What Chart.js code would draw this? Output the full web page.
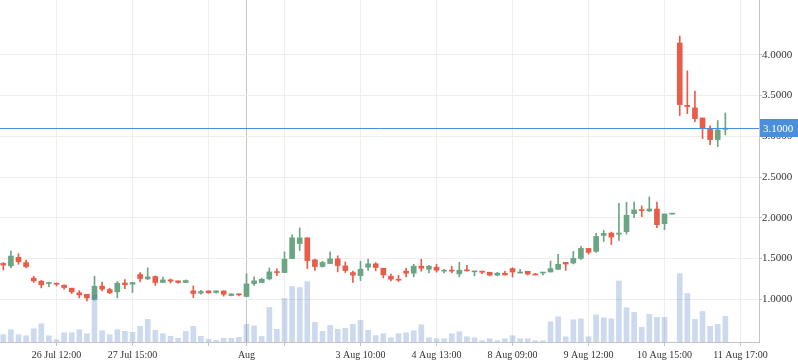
<!DOCTYPE html>
<html>
<head>
<meta charset="utf-8">
<script src="https://cdn.jsdelivr.net/npm/chart.js@4.4.1/dist/chart.umd.min.js"></script>
<style>
  html, body { margin: 0; padding: 0; background: #fff; }
  #wrap { width: 798px; height: 363px; position: relative; }
</style>
</head>
<body>
<div id="wrap"><canvas id="priceChart"></canvas></div>
<script>
// candle data, one entry per bar (bar index is the x value)
const opens = [1.44, 1.41, 1.515, 1.45, 1.26, 1.222, 1.193, 1.197, 1.173, 1.136,
  1.079, 1.062, 1.0, 1.161, 1.12, 1.091, 1.2, 1.185, 1.304, 1.25,
  1.279, 1.206, 1.238, 1.226, 1.206, 1.103, 1.075, 1.103, 1.083, 1.103,
  1.046, 1.066, 1.034, 1.193, 1.206, 1.25, 1.34, 1.328, 1.5, 1.684,
  1.754, 1.484, 1.402, 1.439, 1.496, 1.41, 1.328, 1.291, 1.394, 1.435,
  1.381, 1.283, 1.246, 1.345, 1.32, 1.406, 1.369, 1.394, 1.345, 1.357,
  1.312, 1.357, 1.337, 1.345, 1.332, 1.296, 1.318, 1.376, 1.322, 1.343,
  1.31, 1.322, 1.335, 1.367, 1.453, 1.445, 1.502, 1.624, 1.588, 1.784,
  1.812, 1.8, 1.83, 2.051, 2.096, 2.084, 2.108, 1.928, 2.045, 4.145,
  3.38, 3.348, 3.225, 3.094, 2.959, 3.085];
const highs = [1.45, 1.59, 1.56, 1.48, 1.283, 1.234, 1.21, 1.2, 1.177, 1.136,
  1.107, 1.062, 1.283, 1.21, 1.136, 1.218, 1.242, 1.206, 1.328, 1.385,
  1.287, 1.271, 1.25, 1.226, 1.238, 1.165, 1.111, 1.103, 1.103, 1.103,
  1.066, 1.066, 1.312, 1.275, 1.259, 1.385, 1.373, 1.582, 1.79, 1.876,
  1.754, 1.492, 1.467, 1.582, 1.533, 1.459, 1.345, 1.467, 1.492, 1.45,
  1.381, 1.308, 1.296, 1.381, 1.43, 1.492, 1.418, 1.43, 1.369, 1.406,
  1.455, 1.418, 1.345, 1.345, 1.332, 1.332, 1.343, 1.388, 1.367, 1.343,
  1.318, 1.331, 1.469, 1.551, 1.453, 1.588, 1.649, 1.624, 1.808, 1.845,
  1.824, 2.176, 2.19, 2.194, 2.145, 2.256, 2.194, 2.047, 2.047, 4.231,
  3.802, 3.556, 3.225, 3.127, 3.192, 3.286];
const lows = [1.36, 1.385, 1.43, 1.385, 1.206, 1.14, 1.156, 1.165, 1.124, 1.07,
  1.017, 0.98, 0.99, 1.103, 1.07, 1.017, 1.13, 1.083, 1.214, 1.242,
  1.169, 1.206, 1.2, 1.197, 1.206, 1.021, 1.062, 1.075, 1.075, 1.038,
  1.042, 1.042, 1.034, 1.169, 1.201, 1.238, 1.291, 1.328, 1.5, 1.598,
  1.377, 1.353, 1.394, 1.439, 1.336, 1.328, 1.206, 1.23, 1.353, 1.35,
  1.263, 1.226, 1.218, 1.275, 1.275, 1.345, 1.324, 1.332, 1.324, 1.324,
  1.275, 1.345, 1.287, 1.312, 1.287, 1.287, 1.298, 1.273, 1.322, 1.298,
  1.298, 1.298, 1.335, 1.367, 1.355, 1.433, 1.49, 1.555, 1.576, 1.71,
  1.673, 1.722, 1.8, 2.002, 2.014, 2.076, 1.879, 1.855, 2.045, 3.254,
  3.278, 3.18, 2.971, 2.898, 2.873, 3.016];
const closes = [1.42, 1.53, 1.46, 1.4, 1.226, 1.177, 1.201, 1.185, 1.144, 1.091,
  1.054, 1.017, 1.161, 1.124, 1.079, 1.197, 1.18, 1.206, 1.255, 1.275,
  1.206, 1.238, 1.222, 1.206, 1.23, 1.071, 1.095, 1.079, 1.103, 1.062,
  1.066, 1.054, 1.189, 1.226, 1.246, 1.336, 1.328, 1.492, 1.754, 1.754,
  1.475, 1.402, 1.451, 1.496, 1.414, 1.353, 1.296, 1.369, 1.435, 1.39,
  1.3, 1.246, 1.234, 1.32, 1.406, 1.381, 1.406, 1.357, 1.357, 1.345,
  1.357, 1.349, 1.345, 1.332, 1.296, 1.32, 1.298, 1.335, 1.335, 1.31,
  1.298, 1.331, 1.376, 1.429, 1.433, 1.502, 1.624, 1.576, 1.771, 1.808,
  1.763, 1.812, 2.03, 2.096, 2.088, 2.108, 1.916, 2.047, 2.047, 3.389,
  3.364, 3.217, 3.102, 2.959, 3.078, 3.1];
const volumes = [73, 123, 73, 63, 133, 183, 63, 23, 93, 93,
  123, 83, 473, 113, 73, 123, 107, 97, 157, 227,
  117, 83, 57, 37, 107, 157, 57, 27, 17, 37,
  37, 47, 177, 162, 57, 347, 127, 437, 557, 547,
  607, 197, 107, 167, 127, 137, 177, 217, 117, 65,
  83, 43, 83, 93, 113, 173, 43, 33, 33, 83,
  103, 53, 43, 13, 33, 13, 33, 63, 33, 33,
  13, 13, 203, 253, 53, 223, 233, 53, 273, 243,
  233, 613, 345, 297, 147, 277, 247, 247, 0, 687,
  487, 227, 307, 157, 177, 257];

// time axis ticks (bar index -> label)
const tickPositions = [7, 17, 27, 32, 37, 47, 57, 67, 77, 87, 97];
const tickLabels = ['26 Jul 12:00', '27 Jul 15:00', '', 'Aug', '', '3 Aug 10:00',
  '4 Aug 13:00', '8 Aug 09:00', '9 Aug 12:00', '10 Aug 15:00', '11 Aug 17:00'];
const priceTicks = [1.0, 1.5, 2.0, 2.5, 3.0, 3.5, 4.0];
const lastPrice = 3.1;

const upColor = '#6ba583';
const downColor = '#e85c4a';
const volColor = 'rgba(60, 110, 195, 0.26)';
const lineColor = '#4a8fdb';
const fontFamily = "'Liberation Serif', 'Times New Roman', serif";
const timeFont = { family: fontFamily, size: 10 };
const priceFont = { family: fontFamily, size: 11 };

const candleColors = closes.map(function(c, i) {
    return c >= opens[i] ? upColor : downColor;
});

// price line + its label on the axis
const priceLinePlugin = {
    id: 'priceLine',
    afterDraw: function(chart) {
        const ctx = chart.ctx;
        const area = chart.chartArea;
        const y = Math.round(chart.scales.y.getPixelForValue(lastPrice)) + 0.5;
        ctx.save();
        ctx.strokeStyle = lineColor;
        ctx.lineWidth = 1;
        ctx.beginPath();
        ctx.moveTo(area.left, y);
        ctx.lineTo(area.right, y);
        ctx.stroke();
        ctx.fillStyle = lineColor;
        ctx.fillRect(area.right + 1, y - 9.5, chart.width - area.right - 1, 18);
        ctx.fillStyle = '#ffffff';
        ctx.font = priceFont.size + 'px ' + fontFamily;
        ctx.textBaseline = 'middle';
        ctx.textAlign = 'left';
        ctx.fillText(lastPrice.toFixed(4), area.right + 4, y + 0.5);
        ctx.restore();
    }
};

const ctx = document.getElementById('priceChart').getContext('2d');
new Chart(ctx, {
    type: 'bar',
    data: {
        datasets: [{
            label: 'Volume',
            data: volumes.map(function(v, i) { return { x: i, y: v }; }),
            yAxisID: 'yv',
            backgroundColor: volColor,
            barThickness: 5,
            grouped: false,
            order: 0
        }, {
            label: 'Wick',
            data: lows.map(function(l, i) { return { x: i, y: [l, highs[i]] }; }),
            yAxisID: 'y',
            backgroundColor: candleColors,
            barThickness: 1,
            grouped: false,
            order: 2
        }, {
            label: 'Body',
            data: opens.map(function(o, i) {
                return { x: i, y: [Math.min(o, closes[i]), Math.max(o, closes[i])] };
            }),
            yAxisID: 'y',
            backgroundColor: candleColors,
            barThickness: 5,
            minBarLength: 1,
            grouped: false,
            order: 1
        }]
    },
    options: {
        responsive: true,
        maintainAspectRatio: false,
        animation: false,
        layout: { padding: 0, autoPadding: false },
        plugins: { legend: { display: false }, tooltip: { enabled: false } },
        scales: {
            x: {
                type: 'linear',
                min: -0.434,
                max: 99.43,
                offset: false,
                grid: {
                    offset: false,
                    color: function(c) { return c.tick && c.tick.value === 32 ? '#c4c4c4' : '#eeeeee'; },
                    tickColor: '#c4c4c4',
                    tickLength: 4
                },
                border: { color: '#c4c4c4' },
                ticks: {
                    autoSkip: false,
                    maxRotation: 0,
                    padding: 3,
                    font: timeFont,
                    color: '#333333',
                    callback: function(value, index) { return tickLabels[index]; }
                },
                afterBuildTicks: function(scale) {
                    scale.ticks = tickPositions.map(function(v) { return { value: v }; });
                },
                afterFit: function(scale) {
                    scale.height = 21;
                    scale.paddingLeft = 0;
                    scale.paddingRight = 0;
                }
            },
            y: {
                position: 'right',
                min: 0.476,
                max: 4.672,
                grid: { color: '#eeeeee', tickColor: '#c4c4c4', tickLength: 3 },
                border: { color: '#c4c4c4' },
                ticks: {
                    padding: 0,
                    font: priceFont,
                    color: '#333333',
                    callback: function(value) { return value.toFixed(4); }
                },
                afterBuildTicks: function(scale) {
                    scale.ticks = priceTicks.map(function(v) { return { value: v }; });
                },
                afterFit: function(scale) {
                    scale.width = 39;
                    scale.paddingTop = 0;
                    scale.paddingBottom = 0;
                }
            },
            yv: {
                display: false,
                min: 0,
                max: Math.max.apply(null, volumes) / 0.2
            }
        }
    },
    plugins: [priceLinePlugin]
});
</script>
</body>
</html>
